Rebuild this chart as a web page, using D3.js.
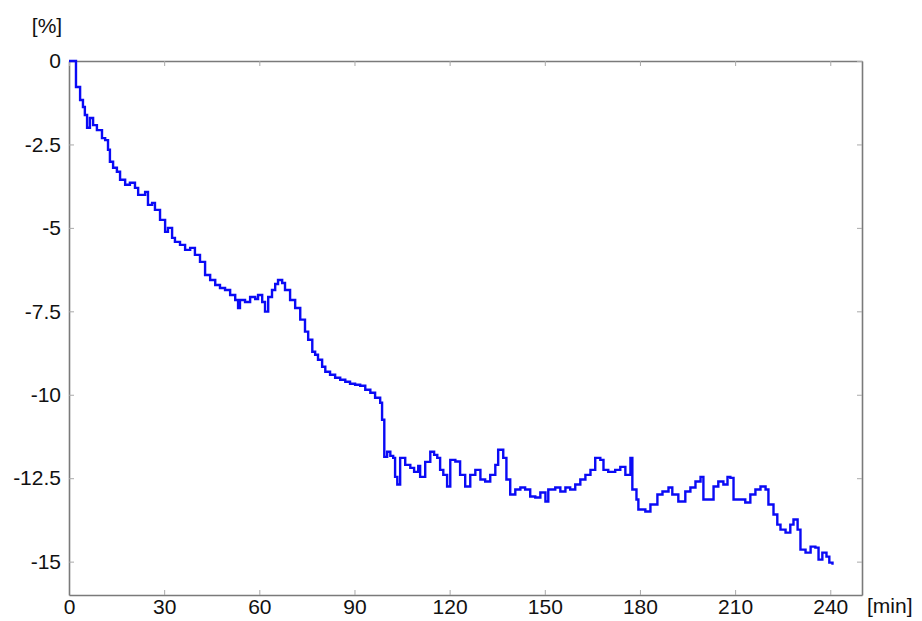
<!DOCTYPE html>
<html>
<head>
<meta charset="utf-8">
<script src="https://cdn.jsdelivr.net/npm/d3@7"></script>
<style>
  body { margin: 0; background: #fff; }
  text { font-family: "Liberation Sans", Arial, sans-serif; fill: #111; }
</style>
</head>
<body>
<div id="chart"></div>
<script>
// Chart data
let times = [0, 2.2, 2.2, 3.5, 4.4, 5.0, 5.7, 6.6, 7.6, 8.8, 10.4, 11.4, 12.3, 12.9, 13.9, 15.1, 16.1, 17.7, 19.2, 20.8,
  21.8, 24.0, 24.9, 26.2, 27.1, 28.7, 30.3, 31.2, 32.5, 33.4, 35.0, 36.6, 38.2, 39.7, 41.3, 42.9, 44.5, 46.1, 47.6, 49.2,
  50.8, 52.4, 53.3, 53.9, 55.5, 57.1, 58.7, 59.6, 60.9, 61.8, 62.8, 64.0, 65.0, 65.9, 67.2, 68.1, 69.7, 71.3, 72.9, 74.4,
  75.4, 76.7, 77.6, 78.5, 79.8, 80.8, 82.3, 83.9, 85.5, 87.1, 88.6, 90.2, 91.8, 93.4, 95.0, 96.5, 98.1, 98.7, 99.4, 100.3,
  101.3, 102.2, 102.8, 103.5, 104.4, 106.0, 107.6, 108.8, 110.1, 110.7, 112.3, 113.9, 115.1, 116.1, 117.0, 118.0, 119.2, 120.2, 121.8, 123.3,
  124.9, 126.5, 128.1, 129.7, 131.2, 132.8, 134.4, 135.3, 136.9, 137.9, 139.1, 140.7, 142.3, 143.8, 145.4, 147.0, 148.6, 150.2, 151.1, 153.3,
  154.9, 156.5, 158.0, 159.6, 161.2, 162.8, 164.4, 165.9, 167.5, 168.5, 170.0, 172.2, 173.8, 175.4, 177.0, 177.6, 178.9, 179.5, 181.7, 183.3,
  185.5, 187.1, 189.0, 190.2, 192.1, 194.3, 195.9, 197.5, 199.1, 200.0, 201.6, 203.2, 204.7, 206.3, 207.6, 208.5, 209.5, 211.0, 213.2, 214.8,
  216.4, 218.0, 219.6, 220.5, 222.1, 223.3, 224.3, 225.9, 227.4, 228.4, 229.7, 230.6, 232.2, 233.8, 235.3, 236.3, 237.5, 238.8, 239.7, 240.7];

let values = [0, 0, -0.78, -1.17, -1.38, -1.62, -2.0, -1.71, -1.92, -2.07, -2.31, -2.37, -2.66, -3.02, -3.2, -3.32, -3.56, -3.71, -3.65, -3.8,
  -4.01, -3.92, -4.31, -4.25, -4.46, -4.76, -5.12, -5.0, -5.3, -5.42, -5.51, -5.66, -5.6, -5.81, -6.02, -6.41, -6.56, -6.71, -6.8, -6.86,
  -7.01, -7.16, -7.4, -7.16, -7.22, -7.07, -7.13, -7.01, -7.22, -7.51, -7.07, -6.86, -6.68, -6.56, -6.65, -6.86, -7.16, -7.4, -7.75, -8.11,
  -8.35, -8.71, -8.8, -8.95, -9.16, -9.31, -9.4, -9.49, -9.55, -9.61, -9.67, -9.7, -9.73, -9.85, -9.94, -10.09, -10.24, -10.75, -11.86, -11.71,
  -11.83, -11.89, -12.46, -12.69, -11.89, -12.1, -12.19, -12.31, -12.13, -12.46, -12.01, -11.71, -11.8, -11.89, -12.25, -12.4, -12.75, -11.95, -12.0, -12.4,
  -12.75, -12.4, -12.25, -12.54, -12.6, -12.4, -12.1, -11.65, -11.89, -12.54, -12.99, -12.84, -12.78, -12.84, -13.05, -13.08, -12.93, -13.2, -12.84, -12.78,
  -12.9, -12.78, -12.84, -12.69, -12.54, -12.4, -12.25, -11.89, -11.95, -12.25, -12.31, -12.25, -12.16, -12.4, -11.89, -12.84, -13.14, -13.44, -13.5, -13.29,
  -12.99, -12.9, -12.78, -12.99, -13.2, -12.9, -12.78, -12.6, -12.46, -13.14, -13.14, -12.75, -12.6, -12.69, -12.46, -12.49, -13.14, -13.14, -13.23, -12.99,
  -12.84, -12.75, -12.84, -13.29, -13.59, -13.89, -14.04, -14.13, -13.89, -13.74, -14.04, -14.64, -14.73, -14.55, -14.58, -14.94, -14.73, -14.85, -15.03, -15.09];

let xTicks = [0, 30, 60, 90, 120, 150, 180, 210, 240];
let yTicks = [0, -2.5, -5, -7.5, -10, -12.5, -15];

// SVG area and margins
let svgWidth = 922;
let svgHeight = 621;
let margin = { top: 61, right: 60, bottom: 26, left: 69 };
let width = svgWidth - margin.left - margin.right;
let height = svgHeight - margin.top - margin.bottom;

let svg = d3.select("#chart")
  .append("svg")
  .attr("width", svgWidth)
  .attr("height", svgHeight);

let chartGroup = svg.append("g")
  .attr("transform", `translate(${margin.left}, ${margin.top})`);

// Scales
let xScale = d3.scaleLinear().domain([0, 250]).range([0, width]);
let yScale = d3.scaleLinear().domain([-16, 0]).range([height, 0]);

let axisColor = "#7a7a7a";
let fmt = (d) => String(d);

// Axes, ticks pointing inwards on all four sides
let bottomAxis = d3.axisBottom(xScale).tickValues(xTicks).tickSizeInner(-5).tickSizeOuter(0).tickPadding(4).tickFormat(fmt);
let leftAxis = d3.axisLeft(yScale).tickValues(yTicks).tickSizeInner(-5).tickSizeOuter(0).tickPadding(8).tickFormat(fmt);
let topAxis = d3.axisTop(xScale).tickValues(xTicks).tickSizeInner(-5).tickSizeOuter(0).tickFormat("");
let rightAxis = d3.axisRight(yScale).tickValues(yTicks).tickSizeInner(-5).tickSizeOuter(0).tickFormat("");

let xAxisG = chartGroup.append("g").attr("transform", `translate(0, ${height})`).call(bottomAxis);
let yAxisG = chartGroup.append("g").call(leftAxis);
let topG = chartGroup.append("g").call(topAxis);
let rightG = chartGroup.append("g").attr("transform", `translate(${width}, 0)`).call(rightAxis);

[xAxisG, yAxisG, topG, rightG].forEach(function (g) {
  g.select(".domain").attr("stroke", axisColor).attr("stroke-width", 1.6);
  g.selectAll(".tick line").attr("stroke", "#aaa").attr("stroke-width", 1);
  g.selectAll("text")
    .style("font-family", "Liberation Sans, Arial, sans-serif")
    .style("font-size", "21px")
    .attr("fill", "#111");
});

// Data line (stepwise)
let data = times.map((t, i) => ({ t: t, v: values[i] }));
let line = d3.line()
  .x((d) => xScale(d.t))
  .y((d) => yScale(d.v))
  .curve(d3.curveStepAfter);

chartGroup.append("path")
  .datum(data)
  .attr("fill", "none")
  .attr("stroke", "#0a0af5")
  .attr("stroke-width", 2.4)
  .attr("d", line);

// Unit labels
svg.append("text")
  .attr("x", 47)
  .attr("y", 33)
  .attr("text-anchor", "middle")
  .style("font-size", "21px")
  .text("[%]");

svg.append("text")
  .attr("x", 867)
  .attr("y", 613)
  .style("font-size", "21px")
  .text("[min]");
</script>
</body>
</html>
